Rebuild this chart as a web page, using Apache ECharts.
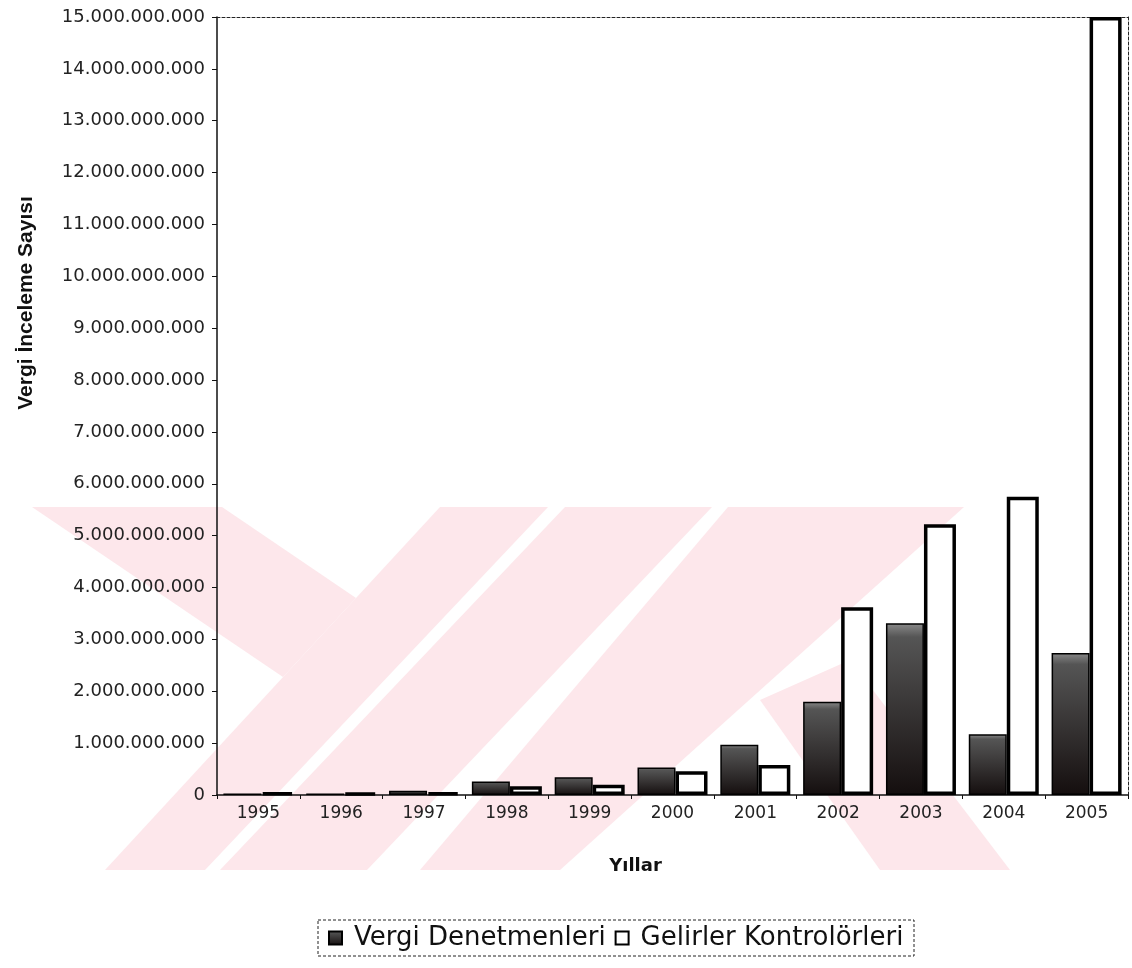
<!DOCTYPE html>
<html>
<head>
<meta charset="utf-8">
<script src="https://cdn.jsdelivr.net/npm/echarts@6/dist/echarts.min.js"></script>
<style>
  html, body { margin: 0; padding: 0; background: #ffffff; }
  #chart { width: 1132px; height: 968px; }
</style>
</head>
<body>
<div id="chart"></div>
<script>
// Years on the category axis
const years = ['1995', '1996', '1997', '1998', '1999', '2000', '2001', '2002', '2003', '2004', '2005'];

// Vergi Denetmenleri (dark bars)
const vergiDenetmenleri = [30000000, 30000000, 80000000, 260000000, 340000000, 530000000, 970000000,
  1800000000, 3310000000, 1170000000, 2740000000];

// Gelirler Kontrolörleri (white bars)
const gelirlerKontrolorleri = [50000000, 40000000, 50000000, 170000000, 200000000, 460000000, 580000000,
  3620000000, 5220000000, 5750000000, 15000000000];

// Value axis range
const yMin = 0;
const yMax = 15000000000;
const yStep = 1000000000;

const seriesNames = ['Vergi Denetmenleri', 'Gelirler Kontrolörleri'];

// thousands separated with dots
function dotted(v) {
  return String(Math.round(v)).replace(/\B(?=(\d{3})+(?!\d))/g, '.');
}

const SANS = 'Liberation Sans, Arial, sans-serif';
const WIDE = 'DejaVu Sans, Verdana, sans-serif';
const PINK = '#fde7eb';

// faint background emblem
const emblem = [
  [[32, 507], [222, 507], [356, 598], [283, 677]],
  [[440, 507], [548, 507], [205, 870], [105, 870]],
  [[565, 507], [712, 507], [367, 870], [220, 870]],
  [[728, 507], [964, 507], [560, 870], [420, 870]],
  [[760, 700], [850, 660], [1010, 870], [880, 870]]
];

const chart = echarts.init(document.getElementById('chart'), null, { renderer: 'canvas' });

chart.setOption({
  animation: false,
  backgroundColor: '#ffffff',
  textStyle: { fontFamily: WIDE, color: '#111' },
  grid: { left: 217, right: 4, top: 17, bottom: 173, containLabel: false },
  legend: {
    data: seriesNames,
    top: 921,
    left: 318,
    padding: [4, 10, 4, 10],
    itemWidth: 13,
    itemHeight: 13,
    itemGap: 9,
    icon: 'rect',
    textStyle: { fontFamily: WIDE, fontSize: 26, color: '#111', padding: [0, 0, 0, 7] }
  },
  graphic: [
    ...emblem.map(pts => ({
      type: 'polygon', z: -10, silent: true,
      shape: { points: pts },
      style: { fill: PINK }
    })),
    {
      type: 'rect', z: 10, silent: true,
      shape: { x: 318, y: 920, width: 596, height: 36 },
      style: { fill: 'none', stroke: '#222', lineWidth: 1, lineDash: [3, 2] }
    }
  ],
  xAxis: [
    {
      type: 'category',
      data: years,
      position: 'bottom',
      axisLine: { show: true, lineStyle: { color: '#111', width: 1.5 } },
      axisTick: { show: true, length: 4, lineStyle: { color: '#111' } },
      axisLabel: { fontFamily: WIDE, fontSize: 17, color: '#222', margin: 10 },
      name: 'Yıllar',
      nameLocation: 'middle',
      nameGap: 62,
      nameTextStyle: { fontFamily: WIDE, fontSize: 18, fontWeight: 'bold', color: '#111', padding: [0, 74, 0, 0] }
    },
    {
      type: 'category',
      data: years,
      position: 'top',
      axisLine: { show: true, onZero: false, lineStyle: { color: '#222', width: 1, type: [3, 2] } },
      axisTick: { show: false },
      axisLabel: { show: false }
    }
  ],
  yAxis: [
    {
      type: 'value',
      min: yMin,
      max: yMax,
      interval: yStep,
      axisLine: { show: true, lineStyle: { color: '#111', width: 1.5 } },
      axisTick: { show: true, length: 5, lineStyle: { color: '#111' } },
      splitLine: { show: false },
      axisLabel: { fontFamily: WIDE, fontSize: 18, color: '#222', margin: 12, formatter: dotted },
      name: 'Vergi İnceleme Sayısı',
      nameLocation: 'middle',
      nameRotate: 90,
      nameGap: 180,
      nameTextStyle: { fontFamily: SANS, fontSize: 21, fontWeight: 'bold', color: '#111', padding: [0, 0, 0, 206] }
    },
    {
      type: 'value',
      min: yMin,
      max: yMax,
      interval: yStep,
      position: 'right',
      axisLine: { show: true, onZero: false, lineStyle: { color: '#222', width: 1, type: [3, 2] } },
      axisTick: { show: false },
      axisLabel: { show: false },
      splitLine: { show: false }
    }
  ],
  series: [
    {
      name: seriesNames[0],
      type: 'bar',
      data: vergiDenetmenleri,
      barWidth: 38,
      barGap: '0%',
      z: 3,
      itemStyle: {
        color: new echarts.graphic.LinearGradient(0, 0, 0, 1, [
          { offset: 0, color: '#8a8a8a' },
          { offset: 0.08, color: '#555555' },
          { offset: 1, color: '#140e0e' }
        ]),
        borderColor: '#000',
        borderWidth: 1.5
      }
    },
    {
      name: seriesNames[1],
      type: 'bar',
      data: gelirlerKontrolorleri,
      barWidth: 32,
      barGap: '0%',
      z: 2,
      itemStyle: {
        color: '#ffffff',
        borderColor: '#000',
        borderWidth: 3.5
      }
    }
  ]
});
</script>
</body>
</html>
